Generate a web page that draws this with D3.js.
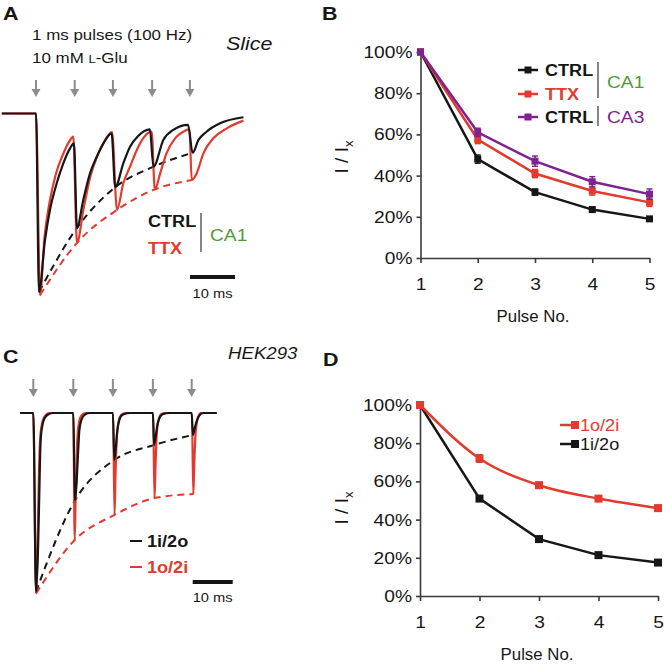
<!DOCTYPE html>
<html><head><meta charset="utf-8">
<script src="https://cdn.jsdelivr.net/npm/d3@7"></script>
<style>body{margin:0;background:#fff}svg{display:block}</style>
</head><body><svg id="fig" width="664" height="664"></svg>
<script>
// ================= DATA =================
const pulseNo = [1, 2, 3, 4, 5];
const yTickValues = [0, 20, 40, 60, 80, 100];

// Panel B (slice) normalized amplitudes, %
const bCtrlCA1 = [100, 48, 32, 23.5, 19];
const bCtrlCA1Err = [0, 2, 1.5, 1.2, 1];
const bTtxCA1 = [100, 57.5, 41, 32.5, 27];
const bTtxCA1Err = [0, 2, 2, 2, 2];
const bCtrlCA3 = [100, 61, 47, 37, 31];
const bCtrlCA3Err = [0, 2, 2.5, 2.5, 2.5];

// Panel D (HEK293) normalized amplitudes, %
const d1o2i = [100, 72, 58, 51, 46];
const d1o2iErr = [0, 2, 1.5, 1.5, 1.5];
const d1i2o = [100, 51, 29.8, 21.4, 17.5];
const d1i2oErr = [0, 1.2, 1, 1, 1];

// Panel A traces: [time ms, normalized current]
const aPulseTimes = [0, 8.6, 17.1, 25.8, 34.2];
const aCtrlTrace = [[-7.6,0],[0,0],[0.67,-1.0],[2.0,-0.709],[3.1,-0.541],[4.6,-0.391],[6.07,-0.279],[7.56,-0.195],[8.44,-0.167],
  [9.1,-0.641],[10.5,-0.485],[12.0,-0.335],[13.5,-0.242],[15.0,-0.167],[16.8,-0.111],
  [17.6,-0.413],[19.4,-0.279],[20.9,-0.186],[22.7,-0.126],[25.3,-0.089],
  [26.1,-0.298],[28.3,-0.148],[30.5,-0.092],[33.8,-0.064],
  [34.8,-0.22],[36.1,-0.148],[37.9,-0.102],[40.9,-0.055],[46.1,-0.021]];
const aTtxTrace = [[-7.6,0],[0,0],[0.9,-1.017],[1.9,-0.69],[3.0,-0.5],[4.4,-0.34],[5.9,-0.235],[7.3,-0.16],[8.3,-0.13],
  [9.1,-0.725],[10.6,-0.53],[12.1,-0.35],[13.6,-0.24],[15.1,-0.16],[16.9,-0.104],
  [18.0,-0.54],[19.4,-0.391],[20.9,-0.298],[22.4,-0.204],[23.8,-0.139],[25.7,-0.102],
  [26.4,-0.425],[27.6,-0.335],[29.0,-0.223],[30.9,-0.139],[32.7,-0.102],[34.1,-0.089],
  [34.6,-0.373],[35.7,-0.335],[37.2,-0.223],[39.4,-0.139],[42.4,-0.083],[46.1,-0.04]];
const aCtrlPeaks = [[0.67,-1.0],[9.1,-0.641],[17.6,-0.413],[26.1,-0.298],[34.8,-0.22]];
const aTtxPeaks = [[0.9,-1.017],[9.1,-0.725],[18.0,-0.54],[26.4,-0.425],[34.6,-0.373]];

// Panel C traces: [time ms, normalized current]
const cPulseTimes = [0, 10, 19.9, 29.9, 39.6];
const c1i2oTrace = [[-3.3,0],[0,0],[0.67,-1],[1.2,-0.75],[1.55,-0.4],[1.75,-0.2],[2.1,-0.09],[2.8,-0.03],[3.7,-0.008],[5,0],
  [10,0],[10.4,-0.49],[10.8,-0.4],[11.2,-0.22],[11.5,-0.1],[12,-0.04],[12.8,-0.01],[14,0],
  [19.9,0],[20.25,-0.263],[20.6,-0.2],[21,-0.1],[21.5,-0.04],[22.3,-0.01],[24,0],
  [29.9,0],[30.2,-0.179],[30.6,-0.13],[31,-0.07],[31.6,-0.025],[32.5,-0.005],[34,0],
  [39.6,0],[39.9,-0.123],[40.3,-0.09],[40.8,-0.05],[41.5,-0.015],[42.5,0],[45.85,0]];
const c1o2iTrace = [[-3.3,0],[0,0],[0.7,-1.01],[1.1,-0.7],[1.4,-0.35],[1.7,-0.15],[2.1,-0.07],[2.8,-0.02],[4,0],
  [10,0],[10.35,-0.711],[10.6,-0.45],[10.9,-0.2],[11.3,-0.07],[12,-0.015],[13,0],
  [19.95,0],[20.3,-0.57],[20.55,-0.35],[20.85,-0.15],[21.3,-0.05],[22,-0.01],[23,0],
  [29.95,0],[30.3,-0.476],[30.55,-0.3],[30.85,-0.12],[31.3,-0.04],[32,-0.005],[33,0],
  [39.65,0],[40,-0.453],[40.25,-0.28],[40.55,-0.12],[41,-0.04],[41.8,0],[45.85,0]];
const c1i2oPeaks = [[0.67,-1],[10.4,-0.49],[20.25,-0.263],[30.2,-0.179],[39.9,-0.123]];
const c1o2iPeaks = [[0.7,-1.01],[10.35,-0.711],[20.3,-0.57],[30.3,-0.476],[40,-0.453]];

const scaleBarMs = 10;

// ================= STYLE =================
const FONT = "'Liberation Sans', Arial, Helvetica, sans-serif";
const SX = 1.13; // horizontal text stretch of the original figure
const BLACK = '#161616', RED = '#e23a2e', PURPLE = '#7e2290', GREEN = '#4e9a35', GRAY = '#8c8c8c', AXIS = '#3a3a3a';

const svg = d3.select('#fig');

function label(g, x, y, str, o = {}) {
  const t = g.append('text')
    .attr('transform', `translate(${x},${y}) scale(${o.sx || SX},1)`)
    .attr('font-family', FONT).attr('font-size', o.size || 17)
    .attr('fill', o.fill || BLACK).attr('font-weight', o.weight || 'normal')
    .attr('font-style', o.style || 'normal').attr('text-anchor', o.anchor || 'start');
  if (str !== null) t.text(str);
  return t;
}

function arrows(g, xs, y0, y1) {
  xs.forEach(x => {
    g.append('line').attr('x1', x).attr('x2', x).attr('y1', y0).attr('y2', y1 - 6)
      .attr('stroke', GRAY).attr('stroke-width', 2);
    g.append('path').attr('d', `M${x - 4.5},${y1 - 8}L${x + 4.5},${y1 - 8}L${x},${y1}Z`).attr('fill', GRAY);
  });
}

// ================= PANEL A =================
{
  const g = svg.append('g');
  const x = d3.scaleLinear().domain([0, 10]).range([36, 81]);
  const y = d3.scaleLinear().domain([-1, 0]).range([292, 113.5]);
  const line = d3.line().x(d => x(d[0])).y(d => y(d[1])).curve(d3.curveMonotoneX);

  label(g, 3, 20, 'A', {size: 19, weight: 'bold'});
  label(g, 32, 40, '1 ms pulses (100 Hz)', {size: 15});
  const t2 = label(g, 32, 63, null, {size: 15});
  t2.append('tspan').text('10 mM ');
  t2.append('tspan').attr('font-size', 11.5).text('L');
  t2.append('tspan').text('-Glu');
  label(g, 226, 50, 'Slice', {size: 19, style: 'italic'});

  arrows(g, aPulseTimes.map(x), 80, 97);

  g.append('path').attr('d', line(aTtxPeaks)).attr('fill', 'none').attr('stroke', RED)
    .attr('stroke-width', 2).attr('stroke-dasharray', '7,5');
  g.append('path').attr('d', line(aCtrlPeaks)).attr('fill', 'none').attr('stroke', BLACK)
    .attr('stroke-width', 2).attr('stroke-dasharray', '7,5');
  g.append('path').attr('d', line(aTtxTrace)).attr('fill', 'none').attr('stroke', RED).attr('stroke-width', 2.2);
  g.append('path').attr('d', line(aCtrlTrace)).attr('fill', 'none').attr('stroke', BLACK).attr('stroke-width', 2.2);

  label(g, 148, 227, 'CTRL', {size: 16, weight: 'bold'});
  label(g, 148, 254, 'TTX', {size: 16, weight: 'bold', fill: RED});
  g.append('line').attr('x1', 201).attr('x2', 201).attr('y1', 213).attr('y2', 252).attr('stroke', '#444').attr('stroke-width', 1.3);
  label(g, 210, 241, 'CA1', {size: 17, fill: GREEN});

  const sb0 = 190;
  g.append('line').attr('x1', sb0).attr('x2', sb0 + x(scaleBarMs) - x(0)).attr('y1', 277).attr('y2', 277)
    .attr('stroke', BLACK).attr('stroke-width', 4);
  label(g, sb0 + (x(scaleBarMs) - x(0)) / 2, 298, '10 ms', {size: 13, anchor: 'middle'});
}

// ================= PANEL C =================
{
  const g = svg.append('g');
  const x = d3.scaleLinear().domain([0, 10]).range([33.3, 73.3]);
  const y = d3.scaleLinear().domain([-1, 0]).range([591.7, 413]);
  const line = d3.line().x(d => x(d[0])).y(d => y(d[1])).curve(d3.curveMonotoneX);

  label(g, 3, 363, 'C', {size: 19, weight: 'bold'});
  label(g, 228, 359, 'HEK293', {size: 16.5, style: 'italic'});
  arrows(g, cPulseTimes.map(x), 379, 397);

  g.append('path').attr('d', line(c1o2iPeaks)).attr('fill', 'none').attr('stroke', RED)
    .attr('stroke-width', 2).attr('stroke-dasharray', '7,5');
  g.append('path').attr('d', line(c1i2oPeaks)).attr('fill', 'none').attr('stroke', BLACK)
    .attr('stroke-width', 2).attr('stroke-dasharray', '7,5');
  g.append('path').attr('d', line(c1o2iTrace)).attr('fill', 'none').attr('stroke', RED).attr('stroke-width', 2.2);
  g.append('path').attr('d', line(c1i2oTrace)).attr('fill', 'none').attr('stroke', BLACK).attr('stroke-width', 2.2);

  g.append('line').attr('x1', 130).attr('x2', 142).attr('y1', 541).attr('y2', 541).attr('stroke', BLACK).attr('stroke-width', 2);
  label(g, 147, 547, '1i/2o', {size: 16, weight: 'bold'});
  g.append('line').attr('x1', 130).attr('x2', 142).attr('y1', 567).attr('y2', 567).attr('stroke', RED).attr('stroke-width', 2);
  label(g, 147, 573, '1o/2i', {size: 16, weight: 'bold', fill: RED});

  const sb0 = 192.7;
  g.append('line').attr('x1', sb0).attr('x2', sb0 + x(scaleBarMs) - x(0)).attr('y1', 582).attr('y2', 582)
    .attr('stroke', BLACK).attr('stroke-width', 4);
  label(g, sb0 + (x(scaleBarMs) - x(0)) / 2, 602, '10 ms', {size: 13, anchor: 'middle'});
}

// ================= LINE CHART helper =================
function lineChart(g, xr, yr, series, letter, letterPos, ylabPos, xlabY) {
  const x = d3.scaleLinear().domain([1, 5]).range(xr);
  const y = d3.scaleLinear().domain([0, 100]).range(yr);

  const yAxis = g.append('g').attr('transform', `translate(${xr[0]},0)`)
    .call(d3.axisLeft(y).tickValues(yTickValues).tickSize(4).tickSizeOuter(0).tickPadding(8).tickFormat(d => d + '%'));
  const xAxis = g.append('g').attr('transform', `translate(0,${yr[0]})`)
    .call(d3.axisBottom(x).tickValues(pulseNo).tickSize(5).tickSizeOuter(0).tickPadding(15).tickFormat(d3.format('d')));
  [yAxis, xAxis].forEach(a => {
    a.select('.domain').attr('stroke', AXIS).attr('stroke-width', 1.6);
    a.selectAll('.tick line').attr('stroke', AXIS).attr('stroke-width', 1.6);
    a.selectAll('text').attr('font-family', FONT).attr('font-size', 17).attr('fill', BLACK);
  });
  yAxis.selectAll('.tick text').attr('x', -8 / SX).attr('transform', `scale(${SX},1)`);
  xAxis.selectAll('.tick text').attr('transform', `scale(${SX},1)`);

  series.forEach(s => {
    const ln = d3.line().x((d, i) => x(pulseNo[i])).y(d => y(d)).curve(s.curve || d3.curveLinear);
    g.append('path').attr('d', ln(s.values)).attr('fill', 'none').attr('stroke', s.color).attr('stroke-width', 2.5);
    s.values.forEach((v, i) => {
      const e = s.err[i];
      if (e > 0) {
        g.append('line').attr('x1', x(pulseNo[i])).attr('x2', x(pulseNo[i])).attr('y1', y(v - e) + 0).attr('y2', y(v + e))
          .attr('stroke', s.color).attr('stroke-width', 1.6);
        [v - e, v + e].forEach(c => g.append('line').attr('x1', x(pulseNo[i]) - 3).attr('x2', x(pulseNo[i]) + 3)
          .attr('y1', y(c)).attr('y2', y(c)).attr('stroke', s.color).attr('stroke-width', 1.4));
      }
      g.append('rect').attr('x', x(pulseNo[i]) - s.ms / 2).attr('y', y(v) - s.ms / 2)
        .attr('width', s.ms).attr('height', s.ms).attr('fill', s.color);
    });
  });

  label(g, letterPos[0], letterPos[1], letter, {size: 19, weight: 'bold'});
  const yl = g.append('text').attr('transform', `translate(${ylabPos[0]},${ylabPos[1]}) rotate(-90)`)
    .attr('font-family', FONT).attr('font-size', 19).attr('fill', BLACK).attr('text-anchor', 'middle');
  yl.append('tspan').text('I / I');
  yl.append('tspan').attr('font-size', 13).attr('dy', 5).text('x');
  label(g, (xr[0] + xr[1]) / 2 - 2, xlabY, 'Pulse No.', {size: 16, anchor: 'middle', sx: 1.05});
  return x;
}

// ================= PANEL B =================
{
  const g = svg.append('g');
  lineChart(g, [420.5, 649.5], [258, 52], [
    {values: bCtrlCA1, err: bCtrlCA1Err, color: BLACK, ms: 7},
    {values: bTtxCA1, err: bTtxCA1Err, color: RED, ms: 7},
    {values: bCtrlCA3, err: bCtrlCA3Err, color: PURPLE, ms: 7}
  ], 'B', [322, 20], [348, 157], 322);

  const rows = [{y: 70, c: BLACK, t: 'CTRL'}, {y: 94, c: RED, t: 'TTX'}, {y: 117, c: PURPLE, t: 'CTRL'}];
  rows.forEach(r => {
    g.append('line').attr('x1', 518).attr('x2', 538).attr('y1', r.y).attr('y2', r.y).attr('stroke', r.c).attr('stroke-width', 2.5);
    g.append('rect').attr('x', 524.5).attr('y', r.y - 3.5).attr('width', 7).attr('height', 7).attr('fill', r.c);
    label(g, 545, r.y + 6, r.t, {size: 16, weight: 'bold', fill: r.c === PURPLE ? BLACK : r.c});
  });
  g.append('line').attr('x1', 598).attr('x2', 598).attr('y1', 62).attr('y2', 98).attr('stroke', '#444').attr('stroke-width', 1.3);
  g.append('line').attr('x1', 598).attr('x2', 598).attr('y1', 106).attr('y2', 126).attr('stroke', '#444').attr('stroke-width', 1.3);
  label(g, 607, 88, 'CA1', {size: 17, fill: GREEN});
  label(g, 607, 123, 'CA3', {size: 17, fill: PURPLE});
}

// ================= PANEL D =================
{
  const g = svg.append('g');
  lineChart(g, [420, 658], [596, 405], [
    {values: d1i2o, err: d1i2oErr, color: BLACK, ms: 8},
    {values: d1o2i, err: d1o2iErr, color: RED, ms: 8, curve: d3.curveMonotoneX}
  ], 'D', [323, 366], [348, 508], 660);

  const rows = [{y: 425, c: RED, t: '1o/2i'}, {y: 444, c: BLACK, t: '1i/2o'}];
  rows.forEach(r => {
    g.append('line').attr('x1', 560).attr('x2', 578).attr('y1', r.y).attr('y2', r.y).attr('stroke', r.c).attr('stroke-width', 2.5);
    g.append('rect').attr('x', 571).attr('y', r.y - 4).attr('width', 8).attr('height', 8).attr('fill', r.c);
    label(g, 580, r.y + 6, r.t, {size: 16, fill: r.c});
  });
}
</script>
</body></html>
